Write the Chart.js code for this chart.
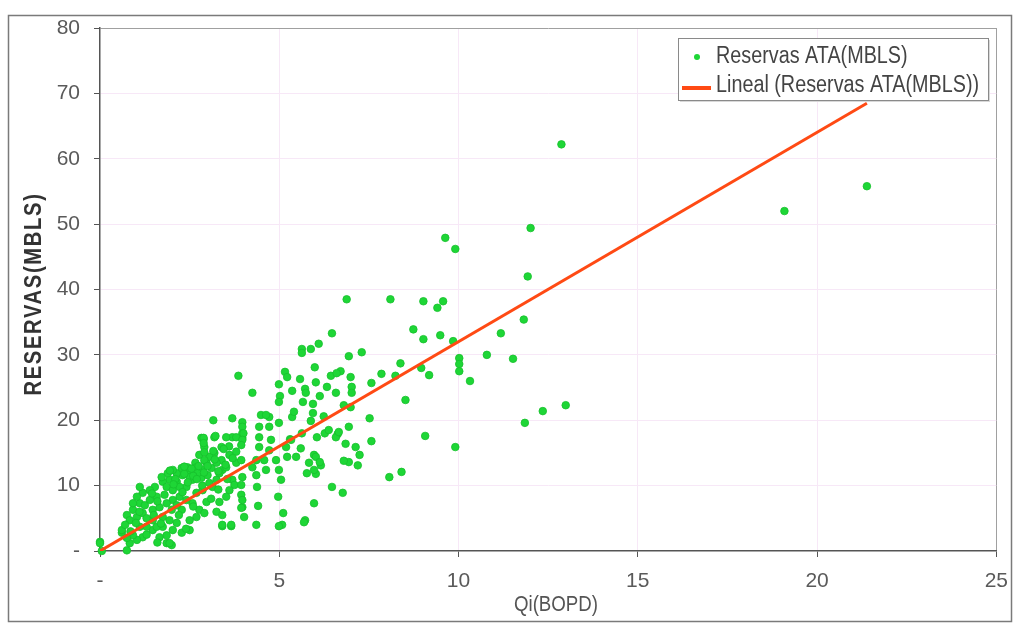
<!DOCTYPE html>
<html>
<head>
<meta charset="utf-8">
<script src="https://cdn.jsdelivr.net/npm/chart.js@4/dist/chart.umd.min.js"></script>
<style>
  html, body { margin: 0; padding: 0; background: #fff; }
  #wrap { width: 1020px; height: 630px; }
</style>
</head>
<body>
<div id="wrap"><canvas id="myChart" width="1020" height="630"></canvas></div>
<script>
// Qi (BOPD) vs Reservas ATA (MBLS)
let qi = [
  12.87, 19.09, 21.39, 12.01, 9.63, 9.91, 11.93, 12.99, 12.35, 11.85, 9.91, 9.07, 11.82, 11.18, 11.52,
  9.02, 9.57, 9.41, 8.74, 9.02, 9.49, 9.85, 8.38, 8.96, 9.18, 10.02, 10.02, 10.02, 10.32, 10.79, 8.52, 8.41,
  6.88, 8.10, 6.47, 5.63, 5.63, 5.88, 6.10, 6.94, 7.30, 5.99, 5.16, 5.22, 5.58, 6.71, 6.44, 6.99, 4.99, 6.02,
  5.36, 5.72, 5.02, 4.99, 6.13, 5.66, 5.94, 7.02, 7.02, 7.57, 7.85, 8.24, 6.80, 6.99, 5.94, 5.36, 6.24, 5.88,
  7.52, 6.94, 6.63, 6.27, 5.63, 6.05, 7.57, 5.30, 5.60, 7.13, 7.24, 5.97, 6.02, 6.94, 7.19, 5.83, 6.16, 5.77,
  6.02, 8.07, 4.72,
  3.86, 4.25, 3.16, 3.69, 4.49, 4.63, 3.97, 3.97, 2.89,
  2.91, 3.19, 3.41, 3.69, 3.75, 3.97, 4.36, 4.36, 4.25, 4.38, 4.41, 4.36, 4.63, 4.58, 4.72, 4.77, 4.44, 4.91,
  4.99, 5.05, 4.97, 5.11, 5.08, 5.22, 5.19, 5.33, 5.47, 5.72, 5.97, 5.97, 6.13, 6.38, 6.47, 6.58, 6.33, 6.60,
  5.41, 4.99, 5.74,
  3.97, 3.97, 4.44, 4.72, 3.69, 3.19, 2.83, 4.44,
  0.00, 0.75, 0.61, 1.86, 2.00, 3.41, 3.66, 4.99, 5.69, 6.77, 6.80, 6.58, 6.85, 6.66,
  0.00, 0.05, 2.89, 2.89, 3.22, 3.52, 3.80, 4.00, 3.97, 3.94, 3.39, 3.61, 3.39, 2.77, 2.66, 2.97, 3.11, 2.86,
  2.50, 2.30, 2.14, 2.14, 1.94, 1.75, 1.86, 2.03, 2.41, 2.58, 2.83, 3.00, 3.80, 3.94, 3.97, 3.94, 3.94, 3.97,
  3.94, 4.02, 3.61, 3.52, 3.33, 3.25, 3.41, 3.41, 3.66, 2.97, 2.77, 2.91, 2.69, 2.50, 2.58, 2.41, 2.22, 2.03,
  1.86, 1.58, 1.39, 1.11, 0.92, 0.75, 0.61, 0.83, 1.03, 1.19, 1.47, 1.66, 1.75, 1.94, 2.14, 2.03, 1.86, 1.94,
  1.66, 1.47, 1.30, 1.19, 1.03, 0.83, 0.92, 0.75, 2.28, 2.50, 1.47, 1.30, 1.75, 1.58, 1.11, 2.00, 2.28, 2.14,
  2.69, 2.86, 3.14, 3.25, 3.33, 3.52, 3.25, 3.05, 3.16, 2.91, 2.69, 2.44, 2.28, 2.03, 1.89, 1.72, 1.53, 1.39,
  1.19, 1.03, 0.92, 1.11, 2.22, 2.50, 2.72, 2.91,
  1.25, 1.60, 1.80, 2.30, 2.45, 2.60, 2.90, 3.00, 3.30, 3.50, 1.50, 1.00, 0.85, 1.30, 1.60, 2.20, 2.60, 3.10,
  3.30, 2.10, 2.35, 2.75, 3.60, 3.80, 1.70, 2.40, 0.70, 1.10, 1.45, 2.05,
  2.55, 2.70, 3.05, 3.20, 3.45, 3.70, 2.35, 2.85, 3.55, 1.95
];
let reservas = [
  62.2, 52.0, 55.8, 49.4, 47.9, 46.2, 42.0, 22.3, 21.4, 19.6, 15.9, 17.6, 35.4, 33.3, 29.4,
  38.2, 38.2, 37.2, 33.9, 32.4, 33.0, 32.1, 28.7, 28.0, 26.9, 29.5, 28.6, 27.5, 26.0, 30.0, 23.1, 12.1,
  38.5, 38.5, 33.3, 30.9, 30.3, 30.9, 31.7, 29.8, 30.4, 28.1, 27.4, 26.6, 26.3, 27.5, 26.8, 26.6, 25.5, 25.8,
  24.5, 24.8, 23.7, 22.8, 23.7, 22.8, 22.5, 25.1, 24.2, 25.7, 27.1, 26.8, 22.3, 22.0, 21.1, 20.5, 20.6, 19.9,
  20.3, 19.0, 17.9, 18.0, 18.0, 17.4, 16.8, 17.1, 15.7, 15.9, 14.7, 14.7, 14.4, 13.6, 13.1, 13.5, 13.1, 11.9,
  11.8, 11.3, 20.5,
  26.8, 24.2, 20.0, 20.3, 20.8, 20.8, 19.7, 19.0, 17.1,
  15.9, 15.0, 12.4, 10.9, 10.1, 6.7, 13.9, 11.6, 12.8, 9.8, 6.9, 4.0, 12.4, 13.9, 15.4, 17.0, 15.9, 13.9,
  12.4, 10.9, 8.3, 5.8, 4.0, 14.4, 15.9, 17.0, 14.4, 4.7, 7.3, 12.4, 13.6, 18.5, 9.8, 24.2, 25.1, 27.2,
  21.3, 19.6, 24.2,
  18.0, 17.3, 19.0, 19.0, 17.4, 17.4, 17.3, 17.4,
  1.4, 0.1, 2.8, 1.2, 0.9, 3.8, 3.8, 3.8, 4.4, 8.9, 13.8, 17.4, 16.4, 18.2,
  1.2, 0.0, 17.3, 16.5, 17.6, 17.4, 17.4, 18.0, 17.0, 16.2, 15.9, 14.7, 13.9, 14.7, 13.5, 13.5, 12.7, 12.4,
  12.1, 11.6, 11.9, 10.6, 10.9, 10.6, 9.8, 9.3, 9.8, 10.9, 11.2, 11.6, 13.5, 13.9, 11.3, 10.1, 8.6, 7.8,
  6.6, 5.2, 9.3, 8.3, 7.5, 6.0, 5.5, 4.0, 4.0, 7.5, 6.3, 5.8, 5.2, 4.7, 7.3, 7.8, 8.3, 7.8,
  7.3, 8.3, 7.8, 7.3, 6.3, 5.5, 3.2, 4.7, 5.2, 5.8, 6.3, 6.7, 5.2, 4.7, 4.3, 3.2, 2.4, 1.2,
  2.1, 3.2, 3.7, 2.1, 1.7, 1.2, 2.4, 2.0, 2.8, 3.2, 4.7, 5.0, 3.7, 3.7, 3.7, 6.3, 6.3, 7.0,
  8.9, 9.3, 9.8, 10.9, 11.9, 12.8, 13.5, 14.4, 15.3, 15.1, 12.8, 12.8, 12.7, 12.4, 11.9, 11.3, 9.8, 9.3,
  8.9, 8.3, 7.3, 9.8, 9.8, 11.3, 11.9, 13.9,
  7.0, 7.6, 8.6, 9.0, 10.5, 11.5, 12.0, 13.0, 12.2, 13.2, 5.5, 4.3, 3.0, 2.5, 1.3, 5.5, 6.8, 8.0,
  9.4, 11.0, 11.8, 13.0, 16.0, 15.2, 4.2, 3.4, 4.0, 6.0, 8.8, 10.2,
  12.6, 11.0, 10.4, 14.0, 15.6, 14.2, 12.9, 10.0, 11.0, 12.3
];
// linear trend line end points as drawn
let trendQi = [0, 21.39];
let trendReservas = [0, 68.5];

let xTicks = [0, 5, 10, 15, 20, 25];
let yTicks = [0, 10, 20, 30, 40, 50, 60, 70, 80];

let FONT = "'Liberation Sans', Arial, sans-serif";

let points = qi.map((q, i) => ({x: q, y: reservas[i]}));
let trend = trendQi.map((q, i) => ({x: q, y: trendReservas[i]}));

// condensed-looking text: squeeze horizontally around the anchor point
function narrowText(c, text, x, y, sx) {
    c.save();
    c.translate(x, y);
    c.scale(sx, 1);
    c.fillText(text, 0, 0);
    c.restore();
}

// frame, axis titles and legend box drawn by hand
let decorations = {
    id: 'decorations',
    beforeDraw(chart) {
        let c = chart.ctx;
        c.save();
        c.fillStyle = '#fff';
        c.fillRect(0, 0, chart.width, chart.height);
        c.strokeStyle = '#7a7a7a';
        c.lineWidth = 1.5;
        c.strokeRect(8.5, 15.5, 1003, 606);
        c.restore();
    },
    afterDraw(chart) {
        let c = chart.ctx;
        c.save();
        // y title
        c.translate(34, 294);
        c.rotate(-Math.PI / 2);
        c.fillStyle = '#333';
        c.font = "bold 24px " + FONT;
        c.letterSpacing = '2px';
        c.textAlign = 'center';
        c.textBaseline = 'middle';
        narrowText(c, 'RESERVAS(MBLS)', 0, 0, 0.84);
        c.restore();

        c.save();
        c.fillStyle = '#555';
        c.font = "22px " + FONT;
        c.textAlign = 'center';
        c.textBaseline = 'middle';
        narrowText(c, 'Qi(BOPD)', 556, 605, 0.85);
        c.restore();

        // legend
        let lx = 678, ly = 38, lw = 310, lh = 62;
        c.save();
        c.fillStyle = '#d8d8d8';
        c.fillRect(lx + 2, ly + 2, lw, lh);
        c.fillStyle = '#fff';
        c.fillRect(lx, ly, lw, lh);
        c.strokeStyle = '#8a8a8a';
        c.lineWidth = 1;
        c.strokeRect(lx + 0.5, ly + 0.5, lw, lh);
        let ds = chart.data.datasets;
        c.font = "23px " + FONT;
        c.textBaseline = 'middle';
        c.textAlign = 'left';
        // scatter entry
        c.beginPath();
        c.arc(697, 57, 3, 0, Math.PI * 2);
        c.fillStyle = ds[1].backgroundColor;
        c.fill();
        c.fillStyle = '#444';
        narrowText(c, ds[1].label, 716, 57, 0.86);
        // trend entry
        c.beginPath();
        c.moveTo(682, 88);
        c.lineTo(711, 88);
        c.strokeStyle = ds[0].borderColor;
        c.lineWidth = 4;
        c.stroke();
        narrowText(c, ds[0].label, 716, 86, 0.86);
        c.restore();
    }
};

let ctx = document.getElementById("myChart");

let myChart = new Chart(ctx.getContext("2d"), {
    type: 'scatter',
    data: {
        datasets: [{
            label: 'Lineal (Reservas ATA(MBLS))',
            type: 'line',
            data: trend,
            borderColor: '#ff4a14',
            borderWidth: 3,
            pointRadius: 0,
            fill: false,
            order: 0
        }, {
            label: 'Reservas ATA(MBLS)',
            data: points,
            backgroundColor: '#1ed636',
            borderColor: '#16c02c',
            borderWidth: 0.8,
            pointRadius: 3.8,
            clip: false,
            order: 1
        }]
    },
    options: {
        responsive: false,
        devicePixelRatio: 1,
        animation: false,
        layout: { padding: { left: 0, top: 28, right: 19, bottom: 0 } },
        plugins: {
            legend: { display: false },
            tooltip: { enabled: false }
        },
        scales: {
            x: {
                type: 'linear',
                min: 0,
                max: 25,
                afterBuildTicks: (scale) => { scale.ticks = xTicks.map(v => ({value: v})); },
                afterFit: (scale) => { scale.height = 79; },
                grid: {
                    color: (c) => c.tick && c.tick.value === 25 ? '#a0a0a0' : (c.tick && c.tick.value === 0 ? 'rgba(0,0,0,0)' : '#f7e8f7'),
                    tickColor: '#555',
                    tickLength: 6,
                    lineWidth: 1
                },
                border: { display: true, color: '#555', width: 1.5 },
                ticks: {
                    color: '#5a5a5a',
                    font: { family: FONT, size: 21 },
                    padding: 12,
                    callback: (v) => v === 0 ? '-' : v
                }
            },
            y: {
                min: 0,
                max: 80,
                afterBuildTicks: (scale) => { scale.ticks = yTicks.map(v => ({value: v})); },
                afterFit: (scale) => { scale.width = 100; },
                grid: {
                    color: (c) => c.tick && c.tick.value === 80 ? '#a0a0a0' : (c.tick && c.tick.value === 0 ? 'rgba(0,0,0,0)' : '#f7e8f7'),
                    tickColor: '#555',
                    tickLength: 6,
                    lineWidth: 1
                },
                border: { display: true, color: '#555', width: 1.5 },
                ticks: {
                    color: '#5a5a5a',
                    font: { family: FONT, size: 21 },
                    padding: 14,
                    callback: (v) => v === 0 ? '-' : v
                }
            }
        }
    },
    plugins: [decorations]
});
</script>
</body>
</html>
